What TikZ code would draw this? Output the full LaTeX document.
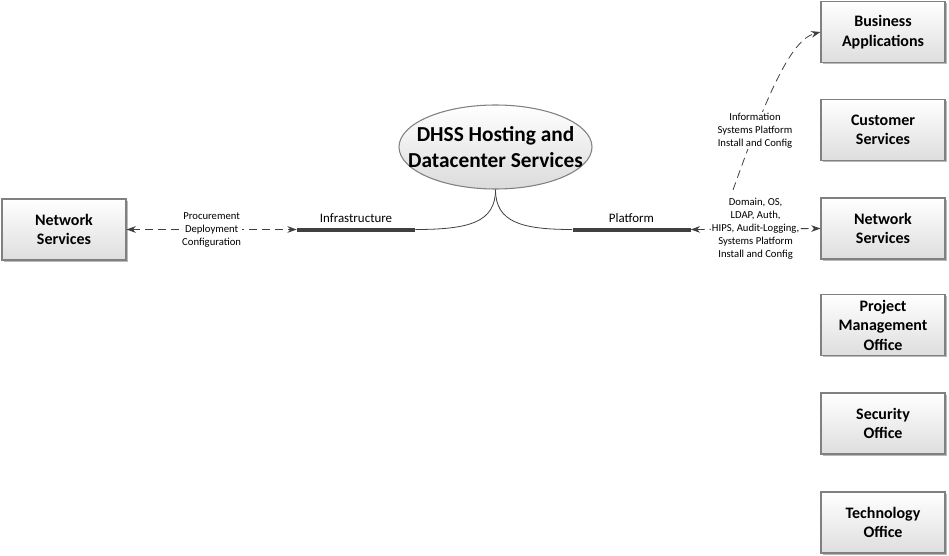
\documentclass[tikz,border=0pt]{standalone}
\usepackage{fontspec}
\setmainfont{Carlito}
\usetikzlibrary{shadows,arrows.meta,shapes.geometric}
\definecolor{boxline}{HTML}{808080}
\definecolor{conn}{HTML}{404040}
\tikzset{
  unitbox/.style={rectangle, draw=boxline, line width=0.8pt, top color=white, bottom color=black!13,
    minimum width=93pt, minimum height=45.75pt, inner sep=0pt, align=center,
    font=\fontsize{12}{14.6}\selectfont\bfseries,
    drop shadow={shadow xshift=1.4pt, shadow yshift=-1.4pt, fill=black!45, opacity=0.6}},
  hub/.style={ellipse, draw=boxline, line width=0.8pt, top color=white, bottom color=black!14,
    minimum width=144.75pt, minimum height=63pt, inner xsep=-16pt, inner ysep=0pt, align=center,
    font=\fontsize{16}{19.5}\selectfont\bfseries},
  bar/.style={rectangle, fill=conn, minimum width=88.5pt, minimum height=3pt, inner sep=0pt},
  barlbl/.style={font=\fontsize{9.7}{11}\selectfont, inner sep=1pt},
  treeline/.style={draw=conn, line width=0.6pt},
  dasharrow/.style={draw=conn, line width=0.6pt, dash pattern=on 6pt off 3.75pt,
    {Stealth[length=7pt,width=5pt]}-{Stealth[length=7pt,width=5pt]}},
  dashone/.style={draw=conn, line width=0.6pt, dash pattern=on 6pt off 3.75pt,
    -{Stealth[length=7pt,width=5pt]}},
  lbl/.style={font=\fontsize{8}{9.75}\selectfont, fill=white, inner sep=0.5pt, align=center}
}
\begin{document}
\begin{tikzpicture}[x=0.75pt,y=-0.75pt]
\useasboundingbox (0,0) rectangle (949,556);
% hub
\node[hub] (hub) at (495.5,147) {DHSS Hosting and\\Datacenter Services};
% bars
\node[bar, label={[barlbl,yshift=2pt]above:Infrastructure}] (infra) at (356,229.5) {};
\node[bar, label={[barlbl,yshift=2pt]above:Platform}] (plat) at (631.5,229.5) {};
% boxes
\node[unitbox] (nsl) at (64,229.5) {Network\\Services};
\node[unitbox] (ba) at (883,32) {Business\\Applications};
\node[unitbox] (cs) at (883,130) {Customer\\Services};
\node[unitbox] (nsr) at (883,228.5) {Network\\Services};
\node[unitbox] (pmo) at (883,325) {Project\\Management\\Office};
\node[unitbox] (so) at (883,423.5) {Security\\Office};
\node[unitbox] (to) at (883,522.5) {Technology\\Office};
% tree lines
\draw[treeline] (hub.south) .. controls (495.5,222) and (470,229.5) .. (infra.east);
\draw[treeline] (hub.south) .. controls (495.5,222) and (521,229.5) .. (plat.west);
% dashed connectors
\draw[dasharrow] (nsl.east) -- node[lbl] {Procurement\\Deployment\\Configuration} (infra.west);
\draw[dasharrow] (plat.east) -- node[lbl] (dom) {Domain, OS,\\LDAP, Auth,\\HIPS, Audit-Logging,\\Systems Platform\\Install and Config} (nsr.west);
\coordinate (cstart) at (733,190);
\draw[dashone] (cstart) .. controls (765,100) and (790,40) .. node[lbl, pos=0.24] {Information\\Systems Platform\\Install and Config} (ba.west);
\end{tikzpicture}
\end{document}
